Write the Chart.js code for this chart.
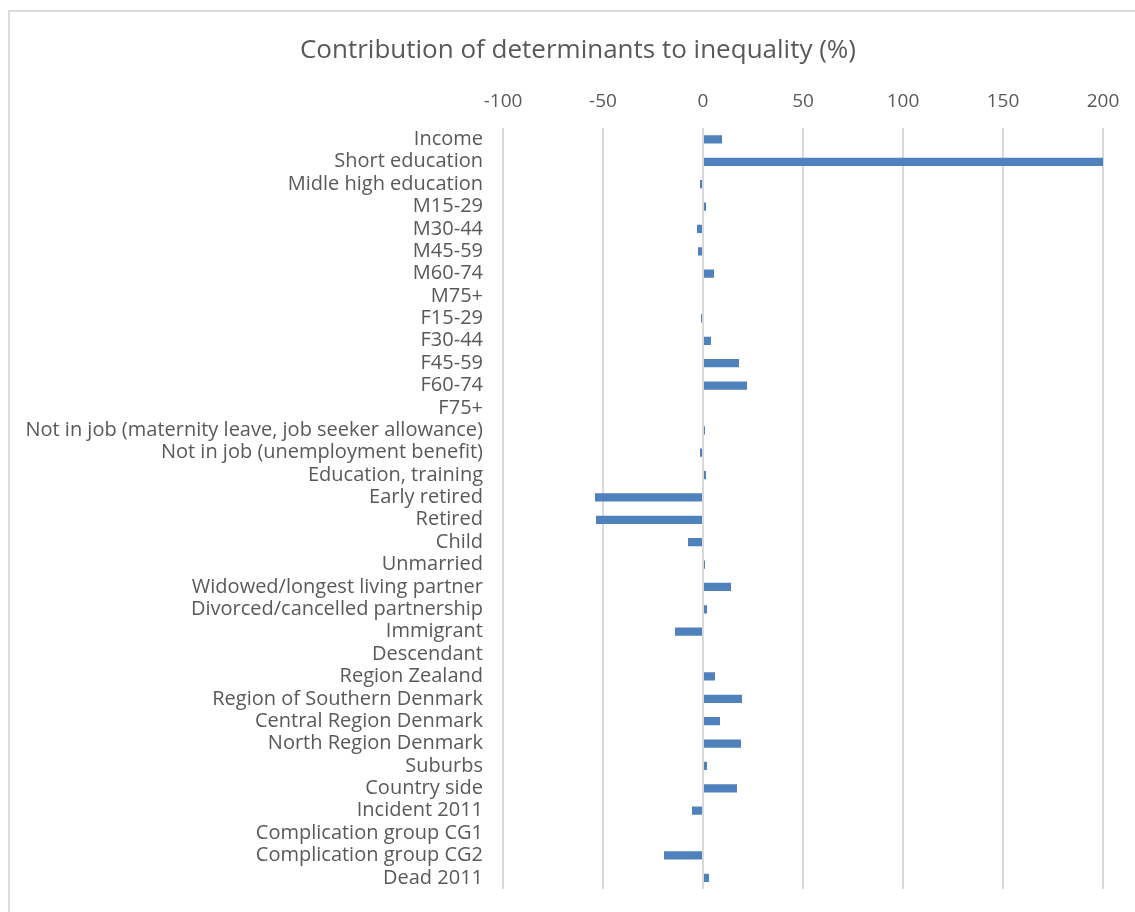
<!DOCTYPE html>
<html>
<head>
<meta charset="utf-8">
<script src="https://cdn.jsdelivr.net/npm/chart.js@4.4.0/dist/chart.umd.min.js"></script>
<style>
    html, body { margin: 0; padding: 0; background: #fff; overflow: hidden; width: 1135px; height: 912px; }
    .frame { position: absolute; left: 8px; top: 10px; width: 2000px; height: 2000px;
             border-left: 2px solid #dcdcdc; border-top: 2px solid #dcdcdc; }
    .wrap { position: absolute; left: 0; top: 0; width: 1156px; height: 912px; }
</style>
</head>
<body>
<div class="frame"></div>
<div class="wrap"><canvas id="ineqChart"></canvas></div>
<script>
// Determinants (top to bottom as shown)
const determinants = [
    'Income', 'Short education', 'Midle high education',
    'M15-29', 'M30-44', 'M45-59', 'M60-74', 'M75+',
    'F15-29', 'F30-44', 'F45-59', 'F60-74', 'F75+',
    'Not in job (maternity leave, job seeker allowance)',
    'Not in job (unemployment benefit)',
    'Education, training', 'Early retired', 'Retired', 'Child',
    'Unmarried', 'Widowed/longest living partner', 'Divorced/cancelled partnership',
    'Immigrant', 'Descendant',
    'Region Zealand', 'Region of Southern Denmark', 'Central Region Denmark', 'North Region Denmark',
    'Suburbs', 'Country side', 'Incident 2011',
    'Complication group CG1', 'Complication group CG2', 'Dead 2011'
];

// Contribution to inequality (%)
const contribution = [
    9.5, 200, -1.5,
    1.5, -3, -2.5, 5.5, 0,
    -1, 4, 18, 22, 0,
    1,
    -1.5,
    1.5, -54, -53.5, -7.5,
    1, 14, 2,
    -14, 0,
    6, 19.5, 8.5, 19,
    2, 17, -5.5,
    0, -19.5, 3
];

const xMin = -100;
const xMax = 200;
const xStep = 50;

const textColor = '#595959';
const gridColor = '#d9d9d9';

const ctx = document.getElementById('ineqChart').getContext('2d');
const ineqChart = new Chart(ctx, {
    type: 'bar',
    data: {
        labels: determinants,
        datasets: [{
            label: 'Contribution',
            data: contribution,
            backgroundColor: '#4f81bd',
            categoryPercentage: 1,
            barPercentage: 0.37
        }]
    },
    options: {
        indexAxis: 'y',
        responsive: true,
        maintainAspectRatio: false,
        animation: false,
        layout: {
            padding: { left: 0, right: 0, top: 0, bottom: 23 }
        },
        plugins: {
            legend: { display: false },
            tooltip: { enabled: false },
            title: {
                display: true,
                text: 'Contribution of determinants to inequality (%)',
                color: textColor,
                font: { family: 'Open Sans', size: 26, weight: 'normal' },
                padding: { top: 35, bottom: 0 }
            }
        },
        scales: {
            x: {
                position: 'top',
                min: xMin,
                max: xMax,
                afterFit: function(scale) {
                    scale.height = 62;
                },
                ticks: {
                    stepSize: xStep,
                    color: textColor,
                    padding: 15,
                    font: { family: 'Open Sans', size: 19 }
                },
                grid: {
                    color: gridColor,
                    lineWidth: 2,
                    drawTicks: false
                },
                border: { display: false }
            },
            y: {
                afterFit: function(scale) {
                    // keep the label column fixed and let the plot run to the bottom padding
                    scale.width = 503;
                    scale.paddingTop = 0;
                    scale.paddingBottom = 0;
                },
                ticks: {
                    color: textColor,
                    padding: 20,
                    autoSkip: false,
                    font: { family: 'Open Sans', size: 20 }
                },
                grid: { display: false, drawTicks: false },
                border: { display: false }
            },
            // empty right-hand spacer so the plot stops at 200 while the title stays centred on the frame
            spacer: {
                type: 'linear',
                position: 'right',
                afterFit: function(scale) {
                    scale.width = 53;
                    scale.paddingTop = 0;
                    scale.paddingBottom = 0;
                },
                ticks: { display: false },
                grid: { display: false, drawTicks: false },
                border: { display: false }
            }
        }
    }
});
</script>
</body>
</html>
